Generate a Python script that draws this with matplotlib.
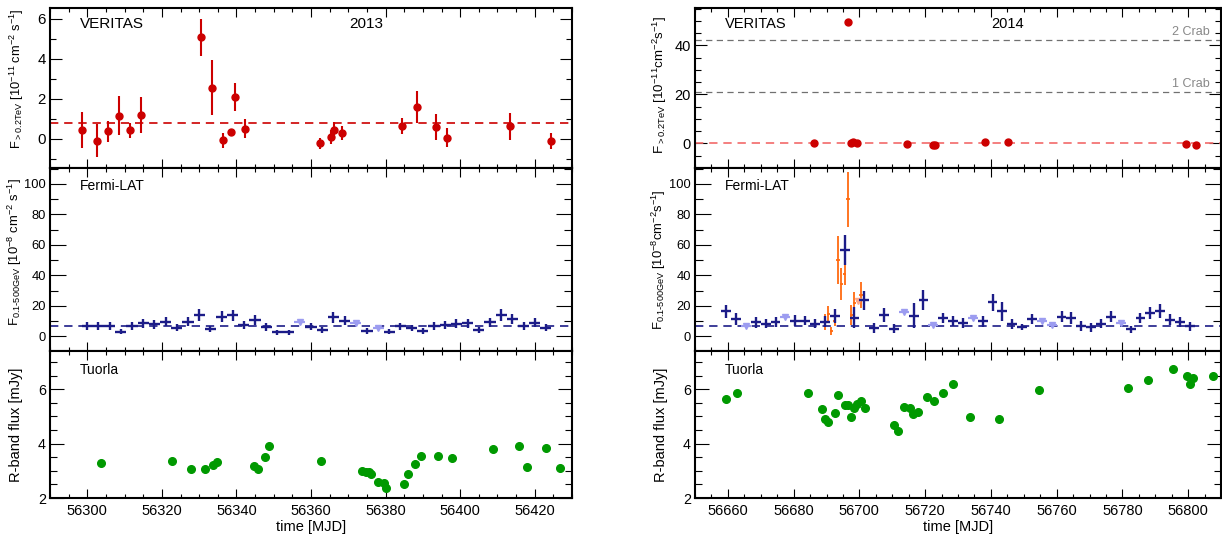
import matplotlib
matplotlib.use("Agg")
import matplotlib.pyplot as plt
from matplotlib.ticker import MultipleLocator

plt.rcParams['font.family'] = ['Liberation Sans', 'DejaVu Sans']
plt.rcParams['mathtext.default'] = 'regular'

# ---------------- data ----------------
# VERITAS 2013 (MJD, flux, err)
ver13_t = [56298.5, 56302.5, 56305.5, 56308.4, 56311.5, 56314.5, 56330.5, 56333.5,
           56336.4, 56338.5, 56339.5, 56342.4, 56362.5, 56365.3, 56366.3, 56368.4,
           56384.3, 56388.3, 56393.4, 56396.4, 56413.4, 56424.4]
ver13_f = [0.43, -0.08, 0.38, 1.16, 0.43, 1.21, 5.08, 2.57, -0.07, 0.37, 2.09, 0.51,
           -0.22, 0.10, 0.45, 0.28, 0.63, 1.58, 0.60, 0.07, 0.63, -0.10]
ver13_e = [0.90, 0.84, 0.53, 0.97, 0.38, 0.90, 0.93, 1.36, 0.38, 0.15, 0.69, 0.48,
           0.28, 0.35, 0.40, 0.35, 0.40, 0.80, 0.63, 0.46, 0.66, 0.42]
ver13_mean = 0.8

# VERITAS 2014
ver14_t = [56686.3, 56696.4, 56697.4, 56698.2, 56699.4, 56714.4, 56722.3, 56723.1,
           56738.2, 56745.3, 56799.4, 56802.3]
ver14_f = [0.3, 49.7, 0.4, 0.7, 0.3, -0.4, -0.5, -0.7, 0.7, 0.8, -0.3, -0.5]
ver14_e = [0.6, 1.0, 0.6, 0.6, 0.6, 0.6, 0.6, 0.6, 0.6, 0.6, 0.6, 0.6]
ver14_mean = 0.4
crab_levels = [20.9, 42.2]
crab_labels = ['1 Crab', '2 Crab']

# Fermi-LAT 2013, 3-day bins
lat13_t = [56300, 56303, 56306, 56309, 56312, 56315, 56318, 56321, 56324, 56327,
           56330, 56333, 56336, 56339, 56342, 56345, 56348, 56351, 56354, 56357,
           56360, 56363, 56366, 56369, 56372, 56375, 56378, 56381, 56384, 56387,
           56390, 56393, 56396, 56399, 56402, 56405, 56408, 56411, 56414, 56417,
           56420, 56423]
lat13_f = [6.8, 6.8, 7.0, 3.1, 7.0, 8.5, 7.9, 9.6, 5.5, 9.6,
           14.0, 4.8, 12.9, 13.8, 7.4, 10.7, 6.1, 2.6, 2.6, 9.6,
           6.3, 3.9, 12.7, 10.3, 9.0, 3.5, 5.3, 3.1, 6.6, 5.5,
           3.7, 7.0, 7.2, 8.3, 8.5, 4.2, 9.2, 14.0, 11.2, 7.0,
           9.0, 5.7]
lat13_e = [2.5, 2.5, 2.5, 1.8, 2.5, 2.8, 2.8, 3.0, 2.3, 3.0,
           4.0, 2.2, 3.5, 3.8, 2.6, 3.2, 2.4, 1.5, 1.5, 0,
           2.4, 2.0, 3.6, 3.0, 0, 2.0, 0, 1.8, 2.4, 2.2,
           2.0, 2.5, 2.6, 2.8, 2.8, 2.1, 3.0, 4.0, 3.4, 2.6,
           3.0, 2.4]
lat13_ul = [19, 24, 26]          # bins given as upper limits
lat13_mean = 6.8

# Fermi-LAT 2014, 3-day bins
lat14_t = [56659.5, 56662.5, 56665.5, 56668.5, 56671.5, 56674.5, 56677.5, 56680.5,
           56683.5, 56686.5, 56689.5, 56692.5, 56695.5, 56698.5, 56701.5, 56704.5,
           56707.5, 56710.5, 56713.5, 56716.5, 56719.5, 56722.5, 56725.5, 56728.5,
           56731.5, 56734.5, 56737.5, 56740.5, 56743.5, 56746.5, 56749.5, 56752.5,
           56755.5, 56758.5, 56761.5, 56764.5, 56767.5, 56770.5, 56773.5, 56776.5,
           56779.5, 56782.5, 56785.5, 56788.5, 56791.5, 56794.5, 56797.5, 56800.5]
lat14_f = [16.4, 11.4, 7.0, 9.2, 8.3, 9.4, 12.5, 10.3, 10.3, 8.3, 9.6, 13.6,
           56.7, 12.3, 23.6, 5.5, 14.0, 5.0, 16.2, 13.6, 24.0, 7.7, 12.0, 10.0,
           8.8, 12.0, 9.8, 22.3, 16.4, 8.1, 6.3, 11.4, 10.3, 7.7, 12.9, 11.8,
           6.8, 5.9, 8.3, 12.9, 9.0, 4.6, 12.0, 15.5, 16.6, 10.9, 9.4, 6.6]
lat14_e = [4.5, 4.0, 0, 3.5, 3.0, 3.0, 0, 3.5, 3.0, 3.0, 3.5, 4.5,
           10.0, 7.0, 6.0, 3.0, 4.5, 3.0, 0, 8.0, 6.5, 0, 3.5, 3.5,
           3.5, 0, 3.5, 5.5, 6.0, 3.0, 2.0, 3.0, 0, 0, 3.5, 4.0,
           3.0, 3.0, 3.0, 3.5, 0, 2.5, 3.5, 4.0, 4.5, 3.5, 3.5, 3.0]
lat14_ul = [2, 6, 18, 21, 25, 32, 33, 40]
lat14_mean = 6.8

# Fermi-LAT 2014 daily bins around the flare
latd_t = [56689.5, 56690.5, 56691.5, 56692.5, 56693.5, 56694.5, 56695.5,
          56696.5, 56697.5, 56698.5, 56700.5]
latd_f = [9.6, 14.8, 3.6, 10.0, 50.0, 34.5, 41.0, 90.0, 14.0, 22.0, 27.0]
latd_e = [5.4, 5.2, 2.7, 3.0, 15.7, 10.5, 7.0, 18.0, 6.5, 7.0, 8.5]
latd_ul_t = [56699.5]
latd_ul_f = [23.0]

# Tuorla R-band
tuo13_t = [56303.6, 56322.8, 56327.7, 56331.6, 56333.6, 56334.7, 56344.6, 56345.7,
           56347.7, 56348.7, 56362.7, 56373.7, 56374.7, 56375.5, 56376.1, 56378.0,
           56379.5, 56380.1, 56385.0, 56386.0, 56388.0, 56389.6, 56394.0, 56397.9,
           56408.8, 56415.8, 56418.0, 56423.1, 56426.8]
tuo13_f = [3.28, 3.37, 3.08, 3.06, 3.20, 3.31, 3.19, 3.07, 3.51, 3.90, 3.35, 2.98,
           2.97, 2.94, 2.90, 2.59, 2.56, 2.38, 2.50, 2.90, 3.26, 3.53, 3.53, 3.46,
           3.79, 3.90, 3.15, 3.82, 3.09]
tuo14_t = [56659.5, 56662.7, 56684.5, 56688.6, 56689.6, 56690.5, 56692.5, 56693.5,
           56695.5, 56696.6, 56697.5, 56698.4, 56699.4, 56700.4, 56701.6, 56710.5,
           56711.6, 56713.6, 56715.5, 56716.4, 56717.7, 56720.6, 56722.7, 56725.4,
           56728.6, 56733.5, 56742.6, 56754.5, 56781.6, 56787.7, 56795.4, 56799.6,
           56800.5, 56801.6, 56807.5]
tuo14_f = [5.64, 5.87, 5.87, 5.26, 4.91, 4.81, 5.14, 5.79, 5.40, 5.43, 4.99, 5.30,
           5.44, 5.55, 5.32, 4.68, 4.45, 5.35, 5.30, 5.09, 5.15, 5.71, 5.57, 5.87,
           6.19, 4.96, 4.92, 5.98, 6.05, 6.34, 6.75, 6.47, 6.18, 6.40, 6.48]

RED = '#cc0000'
BLUE = '#1c1c88'
LAV = '#9c9cf0'
ORANGE = '#ff6a10'
SALMON = '#ffa888'
GREEN = '#009900'

fig = plt.figure(figsize=(12.22, 5.34), dpi=100)

H = 534.0
W = 1222.0
cols = [(50, 572), (695, 1221)]
rows = [(8, 168), (168, 351), (351, 498)]


def make_ax(c, r):
    x0, x1 = cols[c]
    y0, y1 = rows[r]
    return fig.add_axes([x0 / W, (H - y1) / H, (x1 - x0) / W, (y1 - y0) / H])


def style(ax, ylen, yfs, xlabels):
    for s in ax.spines.values():
        s.set_linewidth(1.5)
    ax.tick_params(which='both', direction='in', top=True, right=True, width=0.8)
    ax.tick_params(axis='x', which='major', length=6.5)
    ax.tick_params(axis='x', which='minor', length=3.2)
    ax.tick_params(axis='y', which='major', length=ylen, labelsize=yfs, pad=3)
    ax.tick_params(axis='y', which='minor', length=ylen / 2)
    ax.xaxis.set_major_locator(MultipleLocator(20))
    ax.xaxis.set_minor_locator(MultipleLocator(5))
    if xlabels:
        ax.tick_params(axis='x', labelsize=10.5, pad=4)
        ax.set_xlabel('time [MJD]', fontsize=10.5, labelpad=2)
    else:
        ax.tick_params(axis='x', labelbottom=False)


def add_label(ax, txt, yfrac=0.94, fs=10.5):
    ax.text(0.057, yfrac, txt, transform=ax.transAxes, fontsize=fs,
            ha='left', va='top')


def fermi(ax, t, f, e, ul, mean):
    t_det = [v for i, v in enumerate(t) if i not in ul]
    f_det = [v for i, v in enumerate(f) if i not in ul]
    e_det = [v for i, v in enumerate(e) if i not in ul]
    t_ul = [t[i] for i in ul]
    f_ul = [f[i] for i in ul]
    ax.errorbar(t_ul, f_ul, xerr=1.5, fmt='v', color=LAV, ms=5, elinewidth=1.6,
                capsize=0, zorder=3)
    ax.errorbar(t_det, f_det, xerr=1.5, yerr=e_det, fmt='none', ecolor=BLUE,
                elinewidth=1.7, capsize=0, zorder=4)
    ax.axhline(mean, color=BLUE, lw=1.2, ls=(0, (5, 3.5)), zorder=2)
    ax.set_ylim(-9.6, 110.5)
    ax.yaxis.set_major_locator(MultipleLocator(20))
    ax.yaxis.set_minor_locator(MultipleLocator(10))


# ---------------- 2013 ----------------
ax = make_ax(0, 0)
ax.errorbar(ver13_t, ver13_f, yerr=ver13_e, fmt='o', color=RED, ms=5,
            elinewidth=1.5, capsize=0, zorder=3)
ax.axhline(ver13_mean, color=RED, lw=1.2, ls=(0, (5, 3.5)))
ax.set_xlim(56290, 56430)
ax.set_ylim(-1.45, 6.55)
ax.yaxis.set_major_locator(MultipleLocator(2))
ax.yaxis.set_minor_locator(MultipleLocator(1))
style(ax, 8.5, 10.8, False)
add_label(ax, 'VERITAS', 0.945, 11)
ax.text(0.605, 0.945, '2013', transform=ax.transAxes, fontsize=11, ha='center', va='top')
ax.set_ylabel(r'F$_{>0.2TeV}$ [10$^{-11}$ cm$^{-2}$ s$^{-1}$]', fontsize=9.3)
ax.yaxis.set_label_coords(-0.046, 0.56)

ax = make_ax(0, 1)
fermi(ax, lat13_t, lat13_f, lat13_e, lat13_ul, lat13_mean)
ax.set_xlim(56290, 56430)
style(ax, 11.5, 9.3, False)
add_label(ax, 'Fermi-LAT', 0.94, 10)
ax.set_ylabel(r'F$_{0.1\text{-}500GeV}$ [10$^{-8}$ cm$^{-2}$ s$^{-1}$]', fontsize=9.4)
ax.yaxis.set_label_coords(-0.049, 0.54)

ax = make_ax(0, 2)
ax.plot(tuo13_t, tuo13_f, 'o', color=GREEN, ms=5.5, zorder=3)
ax.set_xlim(56290, 56430)
ax.set_ylim(2, 7.4)
ax.yaxis.set_major_locator(MultipleLocator(2))
ax.yaxis.set_minor_locator(MultipleLocator(0.5))
style(ax, 10, 10.3, True)
add_label(ax, 'Tuorla', 0.92, 10)
ax.set_ylabel('R-band flux [mJy]', fontsize=10.5)
ax.yaxis.set_label_coords(-0.051, 0.5)

# ---------------- 2014 ----------------
ax = make_ax(1, 0)
ax.set_xlim(56650, 56810)
for lev, lab in zip(crab_levels, crab_labels):
    ax.axhline(lev, color='#707070', lw=0.9, ls=(0, (5, 3.5)), zorder=1)
    ax.text(0.979, lev + 1.0, lab, transform=ax.get_yaxis_transform(),
            fontsize=9, color='#888888', ha='right', va='bottom')
ax.errorbar(ver14_t, ver14_f, yerr=ver14_e, fmt='o', color=RED, ms=5,
            elinewidth=1.5, capsize=0, zorder=3)
ax.axhline(ver14_mean, color='#f26a6a', lw=1.2, ls=(0, (5, 3.5)), zorder=2)
ax.set_ylim(-10, 55.3)
ax.yaxis.set_major_locator(MultipleLocator(20))
ax.yaxis.set_minor_locator(MultipleLocator(5))
style(ax, 8.5, 10.5, False)
add_label(ax, 'VERITAS', 0.945, 10.5)
ax.text(0.595, 0.945, '2014', transform=ax.transAxes, fontsize=10.5, ha='center', va='top')
ax.set_ylabel(r'F$_{>0.2TeV}$ [10$^{-11}$cm$^{-2}$s$^{-1}$]', fontsize=9.6)
ax.yaxis.set_label_coords(-0.049, 0.52)

ax = make_ax(1, 1)
ax.errorbar(latd_t, latd_f, xerr=0.5, yerr=latd_e, fmt='none', ecolor=ORANGE,
            elinewidth=1.3, capsize=0, zorder=2)
ax.errorbar(latd_ul_t, latd_ul_f, xerr=0.5, fmt='v', color=SALMON, ms=5,
            elinewidth=1.3, capsize=0, zorder=2)
fermi(ax, lat14_t, lat14_f, lat14_e, lat14_ul, lat14_mean)
ax.set_xlim(56650, 56810)
style(ax, 11.5, 9.3, False)
add_label(ax, 'Fermi-LAT', 0.94, 10)
ax.set_ylabel(r'F$_{0.1\text{-}500GeV}$ [10$^{-8}$cm$^{-2}$s$^{-1}$]', fontsize=9.4)
ax.yaxis.set_label_coords(-0.051, 0.5)

ax = make_ax(1, 2)
ax.plot(tuo14_t, tuo14_f, 'o', color=GREEN, ms=5.5, zorder=3)
ax.set_xlim(56650, 56810)
ax.set_ylim(2, 7.4)
ax.yaxis.set_major_locator(MultipleLocator(2))
ax.yaxis.set_minor_locator(MultipleLocator(0.5))
style(ax, 10, 10.3, True)
add_label(ax, 'Tuorla', 0.92, 10)
ax.set_ylabel('R-band flux [mJy]', fontsize=10.5)
ax.yaxis.set_label_coords(-0.051, 0.5)

fig.savefig('out.png', dpi=100)
